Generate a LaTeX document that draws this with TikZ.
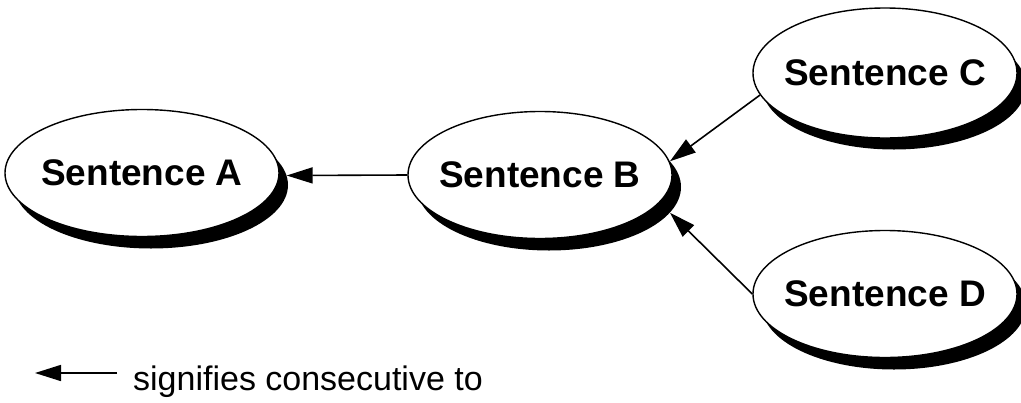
\documentclass[tikz,border=0pt]{standalone}
\usepackage{fontspec}
\setmainfont{Liberation Sans}
\usetikzlibrary{shapes.geometric,arrows.meta}
\tikzset{
  sentence/.style={ellipse,draw,fill=white,line width=1.4pt,inner xsep=-15pt,inner ysep=0pt,
    minimum width=264pt,minimum height=127pt,font=\fontsize{37}{40}\selectfont\bfseries},
  backshadow/.style={ellipse,fill=black,inner sep=0pt,minimum width=264pt,minimum height=127pt},
  consec/.style={-{Triangle[length=26pt,width=16pt]},line width=1.6pt}
}
\begin{document}
\begin{tikzpicture}[x=1pt,y=-1pt]
\useasboundingbox (0,0) rectangle (1021,402);
% shadows sit behind each sentence, shifted down and right
\node[backshadow,minimum width=274pt] (As) at (151,185) {};
\node[backshadow] (Bs) at (549,187) {};
\node[backshadow] (Cs) at (894,86) {};
\node[backshadow] (Ds) at (894,306) {};
% the sentences
\node[sentence,minimum width=274pt] (A) at (142,173) {Sentence A};
\node[sentence] (B) at (540,175) {Sentence B};
\node[sentence,minimum height=130pt] (C) at (885,73) {Sentence C};
\node[sentence] (D) at (885,294) {Sentence D};
% arrows point back to the preceding sentence
\draw[consec] (B.west) -- (As.4);
\draw[consec] (C.190) -- (Bs.12);
\draw[consec] (D.west) -- (Bs.-12);
% key
\coordinate (keytail) at (117,373);
\coordinate (keytip) at (35,373);
\draw[consec] (keytail) -- (keytip);
\node[anchor=base west,font=\fontsize{34}{40}\selectfont,inner sep=0pt] (key) at (133,390) {signifies consecutive to};
\end{tikzpicture}
\end{document}
